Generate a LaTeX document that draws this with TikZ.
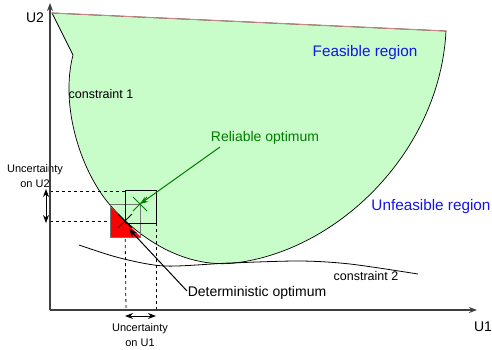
\documentclass[tikz,border=0pt]{standalone}
\usepackage{fontspec}
\setmainfont{Liberation Sans}
\usetikzlibrary{arrows.meta}
\definecolor{feasgreen}{RGB}{200,252,200}
\definecolor{regblue}{RGB}{20,20,235}
\definecolor{optgreen}{RGB}{0,125,0}
\definecolor{topline}{RGB}{200,135,135}
% cross marking an optimum: #1 centre, #2 colour
\newcommand{\optmark}[2]{\draw[#2, line width=1pt] (#1) ++(-7,7) -- ++(14,-14) (#1) ++(-7,-7) -- ++(14,14);}

\begin{document}
\begin{tikzpicture}[x=1pt, y=-1pt, font=\fontsize{14}{16}\selectfont,
  small/.style={font=\fontsize{11}{15}\selectfont, align=center},
  regtext/.style={text=regblue, font=\fontsize{15.3}{17}\selectfont},
  dashline/.style={dash pattern=on 3pt off 3pt, line width=0.8pt},
  >={Stealth[length=8pt,width=6pt]}]
  \useasboundingbox (0,0) rectangle (492,349);
  % feasible region (constraint 1 on the left, arc on the right)
  \filldraw[fill=feasgreen, draw=black, line width=0.7pt] (52,13) -- (73,55)
    .. controls (60,105) and (80,170) .. (110,205)
    .. controls (145,245) and (190,268) .. (235,263)
    .. controls (340,250) and (440,150) .. (446,31) -- cycle;
  \draw[topline, line width=1pt] (52,13) -- (446,31);
  % constraint 2
  \draw[line width=0.8pt] plot[smooth] coordinates {(79,245) (120,258) (165,266) (230,263) (300,261) (350,264) (418,274)};
  % optima
  \coordinate (detopt) at (125,221);
  \coordinate (relopt) at (140,204);
  % projections on the axes
  \draw[dashline] (50,191) -- (125,191);
  \draw[dashline] (50,221) -- (detopt);
  \draw[dashline] (detopt) -- (126,310);
  \draw[dashline] (156,223) -- (156,310);
  % infeasible part of the deterministic box
  \fill[red] (110,206) -- (110,237) -- (141,237) -- cycle;
  \draw[black!55, line width=0.9pt] (110,204) rectangle (140,237);
  \draw[line width=0.9pt] (125,190) rectangle (156,223);
  \optmark{detopt}{black}
  \optmark{relopt}{optgreen}
  % labels
  \node[regtext] (feas) at (365,53) {Feasible region};
  \node[regtext] (unfeas) at (431,207) {Unfeasible region};
  \node[font=\fontsize{12.5}{14}\selectfont] (cons1) at (101,94) {constraint 1};
  \node[font=\fontsize{12.5}{14}\selectfont] (cons2) at (366,276) {constraint 2};
  \node[text=optgreen] (rellbl) at (265,138) {Reliable optimum};
  \node (detlbl) at (257,293) {Deterministic optimum};
  \node[small] (uncu2) at (35,176) {Uncertainty\\on U2};
  \node[small] (uncu1) at (140,335) {Uncertainty\\on U1};
  \node (labu2) at (35,18) {U2};
  \node (labu1) at (483,327) {U1};
  % pointers to the optima
  \coordinate (relfrom) at (220,147);
  \coordinate (detfrom) at (187,291);
  \coordinate (dettip) at (129,229);
  \draw[optgreen, line width=1pt, ->] (relfrom) -- (relopt);
  \draw[line width=1pt, ->] (detfrom) -- (dettip);
  % uncertainty widths
  \coordinate (u2top) at (46,189);
  \coordinate (u2bot) at (46,223);
  \coordinate (u1lft) at (125,316);
  \coordinate (u1rgt) at (156,316);
  \draw[line width=1pt, <->] (u2top) -- (u2bot);
  \draw[line width=1pt, <->] (u1lft) -- (u1rgt);
  % axes
  \coordinate (orig) at (50,310);
  \coordinate (u2end) at (50,3);
  \coordinate (u1end) at (477,310);
  \draw[black!75, line width=1.3pt, ->] (orig) -- (u2end);
  \draw[black!75, line width=1.3pt, ->] (orig) -- (u1end);
\end{tikzpicture}
\end{document}
